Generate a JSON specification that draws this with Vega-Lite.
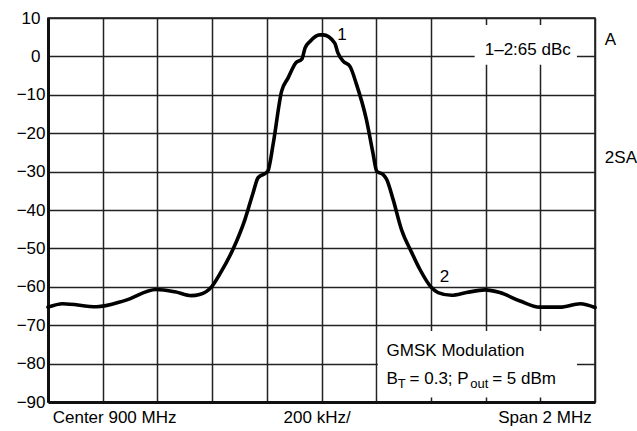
{
  "$schema": "https://vega.github.io/schema/vega-lite/v6.json",
  "width": 547,
  "height": 384,
  "autosize": "none",
  "padding": {"left": 48, "top": 18, "right": 42, "bottom": 29},
  "background": "white",
  "config": {
    "view": {"stroke": "#111", "strokeWidth": 1.5},
    "font": "Liberation Sans",
    "text": {"font": "Liberation Sans", "fontSize": 17, "color": "black"}
  },
  "datasets": {
    "curve": [
      {"x": 0, "y": -65.3}, {"x": 0.27, "y": -64.4}, {"x": 0.89, "y": -65.2}, {"x": 1.4, "y": -63.6},
      {"x": 1.98, "y": -60.7}, {"x": 2.32, "y": -61.3}, {"x": 2.62, "y": -62.3}, {"x": 2.77, "y": -62.0},
      {"x": 2.99, "y": -60.0}, {"x": 3.14, "y": -56.7}, {"x": 3.38, "y": -50.3}, {"x": 3.6, "y": -42.5},
      {"x": 3.75, "y": -35.5}, {"x": 3.84, "y": -31.6}, {"x": 3.99, "y": -30.3}, {"x": 4.02, "y": -29.9},
      {"x": 4.12, "y": -22.5}, {"x": 4.27, "y": -9.1}, {"x": 4.39, "y": -5.6}, {"x": 4.53, "y": -1.7},
      {"x": 4.64, "y": -0.7}, {"x": 4.7, "y": 2.2}, {"x": 4.79, "y": 3.9}, {"x": 4.97, "y": 5.6},
      {"x": 5.03, "y": 5.6}, {"x": 5.24, "y": 3.5}, {"x": 5.3, "y": 0.9}, {"x": 5.4, "y": -1.3},
      {"x": 5.52, "y": -2.6}, {"x": 5.64, "y": -7.3}, {"x": 5.82, "y": -16.4}, {"x": 5.94, "y": -25.1},
      {"x": 6.01, "y": -29.9}, {"x": 6.13, "y": -30.8}, {"x": 6.19, "y": -32.0}, {"x": 6.31, "y": -37.3},
      {"x": 6.46, "y": -45.0}, {"x": 6.65, "y": -51.1}, {"x": 6.8, "y": -55.5}, {"x": 7.01, "y": -60.2},
      {"x": 7.13, "y": -61.5}, {"x": 7.38, "y": -62.2}, {"x": 7.65, "y": -61.5}, {"x": 7.99, "y": -60.8},
      {"x": 8.26, "y": -61.5}, {"x": 8.63, "y": -63.7}, {"x": 8.99, "y": -65.3}, {"x": 9.36, "y": -65.3},
      {"x": 9.73, "y": -64.4}, {"x": 10, "y": -65.4}
    ],
    "boxes": [
      {"x": 7.8, "x2": 9.67, "y": 8.2, "y2": -2.15},
      {"x": 6.03, "x2": 9.67, "y": -71.5, "y2": -88.8}
    ],
    "textLeft": [
      {"x": 0.086, "y": -95.5, "t": "Center 900 MHz"},
      {"x": 10.18, "y": 3.06, "t": "A"},
      {"x": 10.18, "y": -27.7, "t": "2SA"},
      {"x": 7.16, "y": -58.8, "t": "2"},
      {"x": 5.29, "y": 4.17, "t": "1"},
      {"x": 6.19, "y": -78.0, "t": "GMSK Modulation"},
      {"x": 6.19, "y": -85.4, "t": "B"},
      {"x": 6.61, "y": -85.4, "t": "= 0.3; P"},
      {"x": 8.12, "y": -85.4, "t": "= 5 dBm"}
    ],
    "textCenter": [
      {"x": 4.92, "y": -95.5, "t": "200 kHz/"},
      {"x": 8.77, "y": 0.45, "t": "1–2:65 dBc"}
    ],
    "textRight": [
      {"x": 9.94, "y": -95.5, "t": "Span 2 MHz"}
    ],
    "textSub": [
      {"x": 6.395, "y": -86.4, "t": "T"},
      {"x": 7.72, "y": -86.4, "t": "out"}
    ]
  },
  "encoding": {
    "x": {
      "field": "x", "type": "quantitative",
      "scale": {"domain": [0, 10], "nice": false, "zero": false},
      "axis": {
        "title": null, "labels": false, "ticks": false, "tickSize": 0,
        "values": [0, 1, 2, 3, 4, 5, 6, 7, 8, 9, 10],
        "grid": true, "gridColor": "#222", "gridWidth": 1.5, "gridOpacity": 1,
        "domainColor": "#111", "domainWidth": 3
      }
    },
    "y": {
      "field": "y", "type": "quantitative",
      "scale": {"domain": [-90, 10], "nice": false, "zero": false},
      "axis": {
        "title": null, "ticks": false, "tickSize": 0,
        "values": [-90, -80, -70, -60, -50, -40, -30, -20, -10, 0, 10],
        "labelOverlap": false, "labelBound": false, "labelFlush": false,
        "grid": true, "gridColor": "#222", "gridWidth": 1.5, "gridOpacity": 1,
        "domainColor": "#111", "domainWidth": 3,
        "labelFont": "Liberation Sans", "labelFontSize": 17, "labelColor": "black",
        "labelPadding": {"condition": {"test": "datum.value >= 0", "value": 8}, "value": 3},
        "labelBaseline": "middle", "labelAlign": "right"
      }
    }
  },
  "layer": [
    {
      "data": {"name": "boxes"},
      "mark": {"type": "rect", "color": "white", "opacity": 1},
      "encoding": {
        "x2": {"field": "x2"},
        "y2": {"field": "y2"}
      }
    },
    {
      "data": {"name": "curve"},
      "mark": {"type": "line", "color": "black", "strokeWidth": 3.6, "interpolate": "monotone", "strokeJoin": "round", "strokeCap": "round"}
    },
    {
      "data": {"name": "textLeft"},
      "mark": {"type": "text", "align": "left", "baseline": "alphabetic", "fontSize": 17},
      "encoding": {"text": {"field": "t"}}
    },
    {
      "data": {"name": "textCenter"},
      "mark": {"type": "text", "align": "center", "baseline": "alphabetic", "fontSize": 17},
      "encoding": {"text": {"field": "t"}}
    },
    {
      "data": {"name": "textRight"},
      "mark": {"type": "text", "align": "right", "baseline": "alphabetic", "fontSize": 17},
      "encoding": {"text": {"field": "t"}}
    },
    {
      "data": {"name": "textSub"},
      "mark": {"type": "text", "align": "left", "baseline": "alphabetic", "fontSize": 13},
      "encoding": {"text": {"field": "t"}}
    }
  ]
}
